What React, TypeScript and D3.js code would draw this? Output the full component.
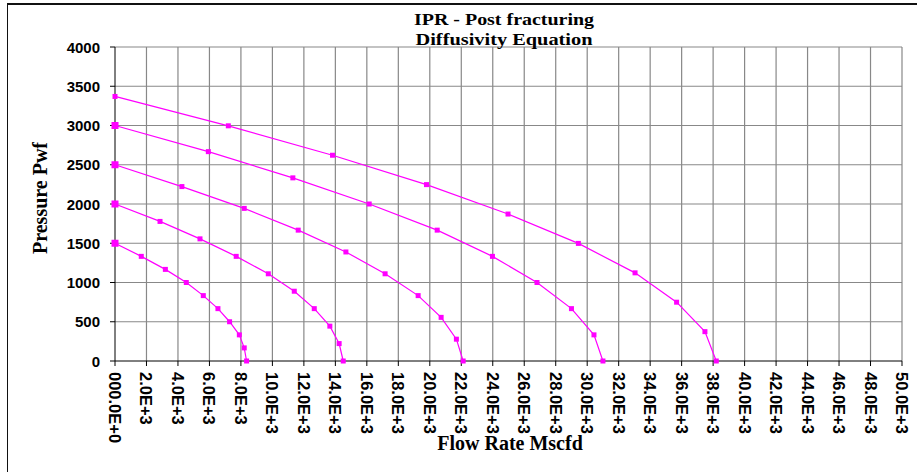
import * as d3 from 'd3';

// flow rate (Mscfd), one per reservoir pressure
const flowPr1500 = [0, 1670, 3200, 4530, 5610, 6540, 7280, 7900, 8210, 8360];
const flowPr2000 = [0, 2860, 5400, 7700, 9740, 11390, 12660, 13650, 14240, 14500];
const flowPr2500 = [0, 4250, 8210, 11640, 14670, 17160, 19260, 20720, 21690, 22120];
const flowPr3000 = [0, 5930, 11300, 16150, 20470, 23980, 26810, 29000, 30430, 31000];
const flowPr3370 = [0, 7200, 13820, 19790, 24970, 29440, 33040, 35680, 37480, 38200];

// flowing bottomhole pressure (Pwf) at each point
const pwfPr1500 = [1500, 1333, 1167, 1000, 833, 667, 500, 333, 167, 0];
const pwfPr2000 = [2000, 1778, 1556, 1333, 1111, 889, 667, 444, 222, 0];
const pwfPr2500 = [2500, 2222, 1944, 1667, 1389, 1111, 833, 556, 278, 0];
const pwfPr3000 = [3000, 2667, 2333, 2000, 1667, 1333, 1000, 667, 333, 0];
const pwfPr3370 = [3370, 2996, 2621, 2247, 1872, 1498, 1123, 749, 374, 0];

const xTickValues = d3.range(0, 50001, 2000);
const xTickLabels = [
  '000.0E+0', '2.0E+3', '4.0E+3', '6.0E+3', '8.0E+3', '10.0E+3', '12.0E+3',
  '14.0E+3', '16.0E+3', '18.0E+3', '20.0E+3', '22.0E+3', '24.0E+3', '26.0E+3',
  '28.0E+3', '30.0E+3', '32.0E+3', '34.0E+3', '36.0E+3', '38.0E+3', '40.0E+3',
  '42.0E+3', '44.0E+3', '46.0E+3', '48.0E+3', '50.0E+3',
];
const yTickValues = [0, 500, 1000, 1500, 2000, 2500, 3000, 3500, 4000];

type Pt = { q: number; p: number };

const curves: { pts: Pt[]; bigStart: boolean }[] = [
  [flowPr1500, pwfPr1500, true],
  [flowPr2000, pwfPr2000, true],
  [flowPr2500, pwfPr2500, true],
  [flowPr3000, pwfPr3000, true],
  [flowPr3370, pwfPr3370, false],
].map(([qs, ps, big]) => ({
  pts: (qs as number[]).map((q, i) => ({ q, p: (ps as number[])[i] })),
  bigStart: big as boolean,
}));

const W = 917;
const H = 472;
const margin = { left: 115, right: 15, top: 47, bottom: 111 };
const magenta = '#ff00ff';
const serif = '"Liberation Serif", "Times New Roman", serif';
const sans = '"Liberation Sans", Arial, sans-serif';

export default function App() {
  const x = d3.scaleLinear().domain([0, 50000]).range([margin.left, W - margin.right]);
  const y = d3.scaleLinear().domain([0, 4000]).range([H - margin.bottom, margin.top]);

  const line = d3
    .line<Pt>()
    .x((d) => x(d.q))
    .y((d) => y(d.p));

  const x0 = x(0);
  const x1 = x(50000);
  const y0 = y(0);
  const y1 = y(4000);

  return (
    <div style={{ position: 'fixed', left: 0, top: 0, width: W, height: H, background: '#fff' }}>
      <svg width={W} height={H}>
        <rect x={0} y={0} width={W} height={H} fill="#fff" />
        {/* chart frame (only top and left visible) */}
        <line x1={7} x2={W} y1={4} y2={4} stroke="#111" strokeWidth={2} />
        <line x1={7.5} x2={7.5} y1={4} y2={H} stroke="#111" strokeWidth={1} />

        {/* grid */}
        {xTickValues.slice(1).map((v) => (
          <line key={'gx' + v} x1={x(v)} x2={x(v)} y1={y1} y2={y0} stroke="#888" strokeWidth={1.2} />
        ))}
        {yTickValues.slice(1).map((v) => (
          <line key={'gy' + v} x1={x0} x2={x1} y1={y(v)} y2={y(v)} stroke="#888" strokeWidth={1.2} />
        ))}

        {/* axes */}
        <line x1={x0} x2={x0} y1={y1} y2={y0} stroke="#000" strokeWidth={1} />
        <line x1={x0} x2={x1} y1={y0} y2={y0} stroke="#000" strokeWidth={1} />
        {yTickValues.map((v) => (
          <g key={'ty' + v}>
            <line x1={x0 - 5} x2={x0} y1={y(v)} y2={y(v)} stroke="#000" />
            <text
              x={x0 - 15}
              y={y(v)}
              textAnchor="end"
              dominantBaseline="central"
              fontFamily={sans}
              fontWeight="bold"
              fontSize={15}
            >
              {v}
            </text>
          </g>
        ))}
        {xTickValues.map((v, i) => (
          <g key={'tx' + v}>
            <line x1={x(v)} x2={x(v)} y1={y0} y2={y0 + 5} stroke="#000" />
            <text
              transform={`translate(${x(v)},${y0 + 11}) rotate(90)`}
              dominantBaseline="central"
              fontFamily={sans}
              fontWeight="bold"
              fontSize={16.5}
            >
              {xTickLabels[i]}
            </text>
          </g>
        ))}

        {/* IPR curves */}
        {curves.map((c, ci) => (
          <g key={'c' + ci}>
            <path d={line(c.pts) ?? ''} fill="none" stroke={magenta} strokeWidth={1.2} />
            {c.pts.map((d, i) => {
              const s = i === 0 && c.bigStart ? 7 : 5;
              return (
                <rect
                  key={i}
                  x={x(d.q) - s / 2}
                  y={y(d.p) - s / 2}
                  width={s}
                  height={s}
                  fill={magenta}
                />
              );
            })}
          </g>
        ))}

        {/* titles */}
        <text
          x={504}
          y={25}
          textAnchor="middle"
          fontFamily={serif}
          fontWeight="bold"
          fontSize={17}
          textLength={180}
          lengthAdjust="spacingAndGlyphs"
        >
          IPR - Post fracturing
        </text>
        <text
          x={504}
          y={45}
          textAnchor="middle"
          fontFamily={serif}
          fontWeight="bold"
          fontSize={17}
          textLength={177}
          lengthAdjust="spacingAndGlyphs"
        >
          Diffusivity Equation
        </text>
        <text x={510} y={450} textAnchor="middle" fontFamily={serif} fontWeight="bold" fontSize={20}>
          Flow Rate Mscfd
        </text>
        <text
          transform="translate(47,198) rotate(-90)"
          textAnchor="middle"
          fontFamily={serif}
          fontWeight="bold"
          fontSize={20}
        >
          Pressure Pwf
        </text>
      </svg>
    </div>
  );
}
